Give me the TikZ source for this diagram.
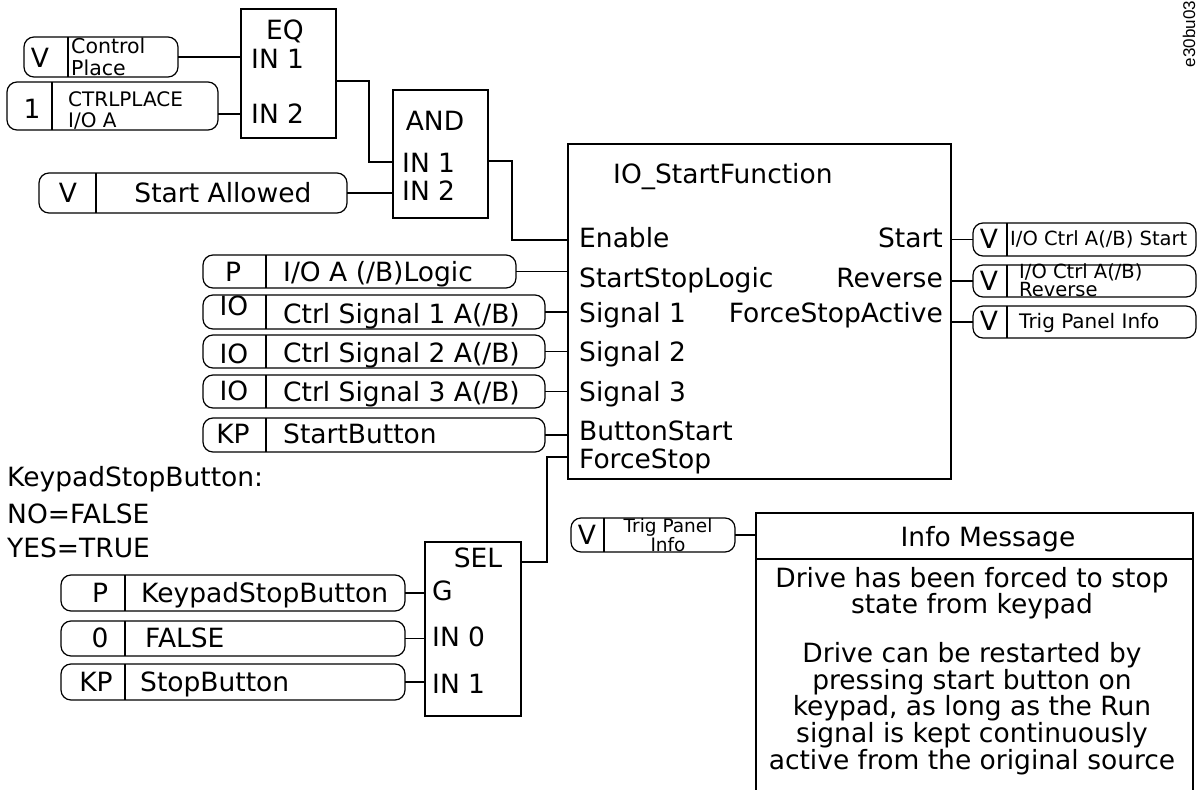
\documentclass[tikz,border=0pt]{standalone}
\usepackage{fontspec}
\setmainfont{DejaVu Sans}
\newfontfamily\codefont{Liberation Sans}

\begin{document}
\begin{tikzpicture}[
        x=1pt, y=-1pt,
        font=\fontsize{26.5}{30}\selectfont,
        blk/.style={draw, line width=2.4pt, inner sep=0pt, outer sep=0pt, anchor=north west},
        sig/.style={draw, rounded corners=10pt, line width=1.2pt, inner sep=0pt, outer sep=0pt, anchor=north west},
        lbl/.style={inner sep=0pt, anchor=base west},
        rlbl/.style={inner sep=0pt, anchor=base east},
        tag/.style={inner sep=0pt, anchor=base},
        small/.style={inner sep=0pt, anchor=base west, align=left},
        wire/.style={line width=1.8pt},
        divline/.style={line width=1.2pt},
        infoline/.style={line width=1.6pt}
    ]

    \useasboundingbox (0,0) rectangle (1200,790);

    \node[rotate=90, inner sep=0pt, font=\codefont\fontsize{17}{20}\selectfont] (figid) at (1189,34) {e30bu03};

    \node[blk, minimum width=95pt, minimum height=129pt] (eqblk) at (241,9) {};
    \node[tag] (eqname) at (285,39) {EQ};
    \node[lbl] (eqin1) at (251,68) {IN 1};
    \node[lbl] (eqin2) at (251,123) {IN 2};

    \node[blk, minimum width=95pt, minimum height=128pt] (andblk) at (393,90) {};
    \node[tag] (andname) at (435,130) {AND};
    \node[lbl] (andin1) at (402,172) {IN 1};
    \node[lbl] (andin2) at (402,200) {IN 2};

    \node[blk, minimum width=383pt, minimum height=335pt] (iofunc) at (568,144) {};
    \node[lbl] (ioname) at (613,183) {IO\_StartFunction};
    \node[lbl] (ioenable) at (579,247) {Enable};
    \node[lbl] (iologic) at (579,287) {StartStopLogic};
    \node[lbl] (iosig1) at (579,322) {Signal 1};
    \node[lbl] (iosig2) at (579,361) {Signal 2};
    \node[lbl] (iosig3) at (579,401) {Signal 3};
    \node[lbl] (iobtn) at (579,440) {ButtonStart};
    \node[lbl] (ioforce) at (579,468) {ForceStop};
    \node[rlbl] (iostart) at (943,247) {Start};
    \node[rlbl] (iorev) at (943,287) {Reverse};
    \node[rlbl] (ioactive) at (943,322) {ForceStopActive};

    \node[blk, minimum width=96pt, minimum height=174pt] (selblk) at (425,542) {};
    \node[tag] (selname) at (478,567) {SEL};
    \node[lbl] (selg) at (432,600) {G};
    \node[lbl] (selin0) at (432,646) {IN 0};
    \node[lbl] (selin1) at (432,693) {IN 1};

    \node[sig, minimum width=154pt, minimum height=40pt] (cp) at (24,37) {};
    \node[tag] (cptag) at (40,67) {V};
    \node[small, font=\fontsize{20.5}{22}\selectfont] (cptxt) at (71,75) {Control\\Place};

    \node[sig, minimum width=211pt, minimum height=48pt] (ctrl) at (7,82) {};
    \node[tag] (ctrltag) at (32,118) {1};
    \node[small, font=\fontsize{20}{21}\selectfont] (ctrltxt) at (68,127) {CTRLPLACE\\I/O A};

    \node[sig, minimum width=308pt, minimum height=40pt] (sa) at (39,173) {};
    \node[tag] (satag) at (68,202) {V};
    \node[tag] (satxt) at (223,202) {Start Allowed};

    \node[sig, minimum width=313pt, minimum height=33pt] (lg) at (203,255) {};
    \node[tag] (lgtag) at (233,281) {P};
    \node[lbl] (lgtxt) at (283,281) {I/O A (/B)Logic};

    \node[sig, minimum width=342pt, minimum height=34pt] (s1) at (203,295) {};
    \node[tag] (s1tag) at (234,315) {IO};
    \node[lbl] (s1txt) at (283,323) {Ctrl Signal 1 A(/B)};

    \node[sig, minimum width=342pt, minimum height=33pt] (s2) at (203,335) {};
    \node[tag] (s2tag) at (234,363) {IO};
    \node[lbl] (s2txt) at (283,362) {Ctrl Signal 2 A(/B)};

    \node[sig, minimum width=342pt, minimum height=33pt] (s3) at (203,375) {};
    \node[tag] (s3tag) at (234,400) {IO};
    \node[lbl] (s3txt) at (283,401) {Ctrl Signal 3 A(/B)};

    \node[sig, minimum width=342pt, minimum height=34pt] (sbtn) at (203,418) {};
    \node[tag] (sbtntag) at (233,443) {KP};
    \node[lbl] (sbtntxt) at (283,443) {StartButton};

    \node[lbl] (kpnote) at (7,486) {KeypadStopButton:};
    \node[lbl] (kpno) at (7,523) {NO=FALSE};
    \node[lbl] (kpyes) at (7,557) {YES=TRUE};

    \node[sig, minimum width=344pt, minimum height=36pt] (kb) at (61,575) {};
    \node[tag] (kbtag) at (100,602) {P};
    \node[lbl] (kbtxt) at (141,602) {KeypadStopButton};

    \node[sig, minimum width=344pt, minimum height=35pt] (fa) at (61,621) {};
    \node[tag] (fatag) at (100,647) {0};
    \node[lbl] (fatxt) at (145,647) {FALSE};

    \node[sig, minimum width=344pt, minimum height=36pt] (sb) at (61,664) {};
    \node[tag] (sbtag) at (96,691) {KP};
    \node[lbl] (sbtxt) at (140,691) {StopButton};

    \node[sig, minimum width=223pt, minimum height=33pt] (ostart) at (973,223) {};
    \node[tag] (ostarttag) at (989,248) {V};
    \node[small, font=\fontsize{19.5}{21}\selectfont] (ostarttxt) at (1010,245) {I/O Ctrl A(/B) Start};

    \node[sig, minimum width=223pt, minimum height=32pt] (orev) at (973,265) {};
    \node[tag] (orevtag) at (989,290) {V};
    \node[small, font=\fontsize{19.5}{13}\selectfont] (orevtxt) at (1019,296) {I/O Ctrl A(/B)\\Reverse};

    \node[sig, minimum width=223pt, minimum height=32pt] (otrig) at (973,306) {};
    \node[tag] (otrigtag) at (989,330) {V};
    \node[lbl, font=\fontsize{20}{22}\selectfont] (otrigtxt) at (1019,328) {Trig Panel Info};

    \node[sig, minimum width=164pt, minimum height=34pt] (ptrig) at (571,518) {};
    \node[tag] (ptrigtag) at (587,544) {V};
    \node[tag, align=center, font=\fontsize{18.5}{16}\selectfont] (ptrigtxt) at (668,551) {Trig Panel\\Info};

    \node[draw, infoline, minimum width=437pt, minimum height=46pt, inner sep=0pt, outer sep=0pt, anchor=north west] (infohead) at (756,513) {};
    \node[tag] (infotitle) at (988,546) {Info Message};
    \node[tag, align=center, font=\fontsize{26.5}{25.5}\selectfont] (infobody) at (972,769) {Drive has been forced to stop\\state from keypad\\[22pt]Drive can be restarted by\\pressing start button on\\keypad, as long as the Run\\signal is kept continuously\\active from the original source};
    \draw[infoline] (infohead.south west) -- ++(0,231);
    \draw[infoline] (infohead.south east) -- ++(0,231);

    \draw[divline] ([xshift=44pt]cp.north west) -- ([xshift=44pt]cp.south west);
    \draw[divline] ([xshift=45pt]ctrl.north west) -- ([xshift=45pt]ctrl.south west);
    \draw[divline] ([xshift=57pt]sa.north west) -- ([xshift=57pt]sa.south west);
    \draw[divline] ([xshift=63pt]lg.north west) -- ([xshift=63pt]lg.south west);
    \draw[divline] ([xshift=63pt]s1.north west) -- ([xshift=63pt]s1.south west);
    \draw[divline] ([xshift=63pt]s2.north west) -- ([xshift=63pt]s2.south west);
    \draw[divline] ([xshift=63pt]s3.north west) -- ([xshift=63pt]s3.south west);
    \draw[divline] ([xshift=63pt]sbtn.north west) -- ([xshift=63pt]sbtn.south west);
    \draw[divline] ([xshift=64pt]kb.north west) -- ([xshift=64pt]kb.south west);
    \draw[divline] ([xshift=64pt]fa.north west) -- ([xshift=64pt]fa.south west);
    \draw[divline] ([xshift=64pt]sb.north west) -- ([xshift=64pt]sb.south west);
    \draw[divline] ([xshift=34pt]ostart.north west) -- ([xshift=34pt]ostart.south west);
    \draw[divline] ([xshift=34pt]orev.north west) -- ([xshift=34pt]orev.south west);
    \draw[divline] ([xshift=34pt]otrig.north west) -- ([xshift=34pt]otrig.south west);
    \draw[divline] ([xshift=33pt]ptrig.north west) -- ([xshift=33pt]ptrig.south west);

    \draw[wire] (cp.east) -- (cp.east -| eqblk.west);
    \draw[wire] ([yshift=-8pt]ctrl.east) -- ([yshift=-8pt]ctrl.east -| eqblk.west);
    \draw[wire] ([yshift=-7.5pt]eqblk.east) -- ++(33,0) |- ([yshift=-8pt]andblk.west);
    \draw[wire] (sa.east) -- (sa.east -| andblk.west);
    \draw[wire] ([yshift=-7pt]andblk.east) -- ++(24,0) |- ([yshift=71.5pt]iofunc.west);
    \draw[wire] (lg.east) -- (lg.east -| iofunc.west);
    \draw[wire] (s1.east) -- (s1.east -| iofunc.west);
    \draw[wire] (s2.east) -- (s2.east -| iofunc.west);
    \draw[wire] (s3.east) -- (s3.east -| iofunc.west);
    \draw[wire] (sbtn.east) -- (sbtn.east -| iofunc.west);
    \draw[wire] ([yshift=-145.5pt]iofunc.west) -- ++(-21,0) |- ([yshift=67pt]selblk.east);
    \draw[wire] (kb.east) -- (kb.east -| selblk.west);
    \draw[wire] (fa.east) -- (fa.east -| selblk.west);
    \draw[wire] (sb.east) -- (sb.east -| selblk.west);
    \draw[wire] (ostart.west) -- (ostart.west -| iofunc.east);
    \draw[wire] (orev.west) -- (orev.west -| iofunc.east);
    \draw[wire] (otrig.west) -- (otrig.west -| iofunc.east);
    \draw[wire] (ptrig.east) -- (ptrig.east -| infohead.west);

\end{tikzpicture}
\end{document}
